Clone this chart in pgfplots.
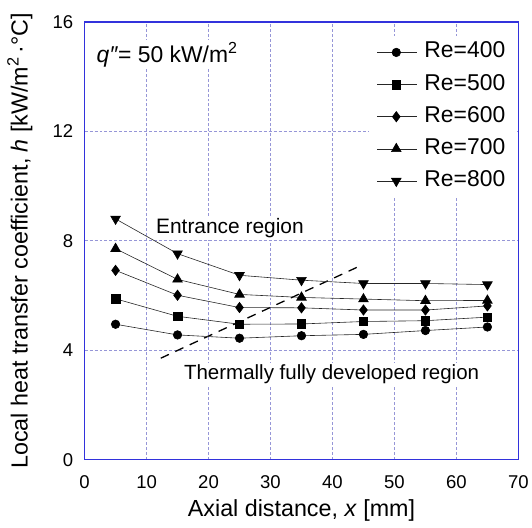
\documentclass[border=0pt]{standalone}
\usepackage{fontspec}
\setmainfont{Liberation Sans}
\usepackage{pgfplots}
\pgfplotsset{compat=1.18}
\definecolor{frameblue}{RGB}{50,50,220}
\definecolor{gridblue}{RGB}{150,150,215}
\begin{document}
\begin{tikzpicture}
\path (-85pt,-68pt) rectangle (447pt,462pt);
\begin{axis}[
  scale only axis, width=436pt, height=440pt,
  xmin=0, xmax=70, ymin=0, ymax=16,
  xtick={0,10,...,70}, ytick={0,4,8,12,16},
  grid=major,
  major grid style={gridblue, line width=0.6pt, dash pattern=on 3pt off 2pt},
  axis line style={frameblue, line width=1.3pt},
  major tick length=0pt,
  /pgf/number format/assume math mode=true,
  tick label style={font=\fontsize{18.6}{22}\selectfont},
  xticklabel style={yshift=-12pt},
  yticklabel style={xshift=-8pt},
  xlabel={Axial distance, \textit{x} [mm]},
  ylabel={Local heat transfer coefficient, \textit{h} [kW/m\textsuperscript{2}\,·°C]},
  every axis x label/.style={at={(axis description cs:0.5,-0.116)}, anchor=center, font=\fontsize{23.4}{28}\selectfont},
  every axis y label/.style={at={(axis description cs:-0.149,0.5)}, rotate=90, anchor=center, font=\fontsize{23.4}{28}\selectfont},
  legend style={at={(axis description cs:1,1)}, anchor=north east, xshift=-3pt, yshift=-14pt,
    draw=none, fill=white, font=\fontsize{23}{27}\selectfont,
    nodes={fill=none, text height=16pt, text depth=5pt, inner sep=2pt},
    row sep=7.3pt, inner xsep=8pt, inner ysep=4pt},
  legend cell align=left,
  /tikz/every odd column/.append style={column sep=5pt},
  legend image code/.code={\draw[#1, mark=none] (0pt,0pt) -- (40pt,0pt); \draw[#1, only marks] plot coordinates {(19pt,0pt)};},
  every axis plot/.append style={black!85, line width=0.6pt},
]
\node[anchor=west, fill=white, inner sep=2pt, font=\fontsize{23}{27}\selectfont] at (axis cs:1.6,14.8) {\textit{q\char"2033}= 50 kW/m\textsuperscript{2}};
\node[anchor=west, fill=white, inner sep=2pt, font=\fontsize{21}{25}\selectfont] at (axis cs:11.2,8.45) {Entrance region};
\node[anchor=west, fill=white, inner sep=2pt, font=\fontsize{20.6}{25}\selectfont] at (axis cs:15.7,3.12) {Thermally fully developed region};
\addplot[black, line width=1.3pt, dash pattern=on 9pt off 7pt, forget plot] coordinates {(12.3,3.71)(44.9,7.13)};
\addplot[mark=*, mark size=4.3pt, mark options={fill=black, draw=black}] coordinates {(5,4.95)(15,4.56)(25,4.44)(35,4.53)(45,4.58)(55,4.72)(65,4.85)};
\addlegendentry{Re=400}
\addplot[mark=square*, mark size=4.3pt, mark options={fill=black, draw=black}] coordinates {(5,5.88)(15,5.24)(25,4.95)(35,4.96)(45,5.05)(55,5.08)(65,5.21)};
\addlegendentry{Re=500}
\addplot[mark=diamond*, mark size=5.2pt, mark options={fill=black, draw=black}] coordinates {(5,6.92)(15,6.01)(25,5.56)(35,5.55)(45,5.47)(55,5.47)(65,5.62)};
\addlegendentry{Re=600}
\addplot[mark=triangle*, mark size=5.6pt, mark options={fill=black, draw=black}] coordinates {(5,7.71)(15,6.59)(25,6.04)(35,5.93)(45,5.87)(55,5.81)(65,5.82)};
\addlegendentry{Re=700}
\addplot[mark=triangle*, mark size=5.6pt, mark options={fill=black, draw=black, rotate=180}] coordinates {(5,8.80)(15,7.53)(25,6.74)(35,6.56)(45,6.44)(55,6.44)(65,6.40)};
\addlegendentry{Re=800}
\end{axis}
\end{tikzpicture}
\end{document}
